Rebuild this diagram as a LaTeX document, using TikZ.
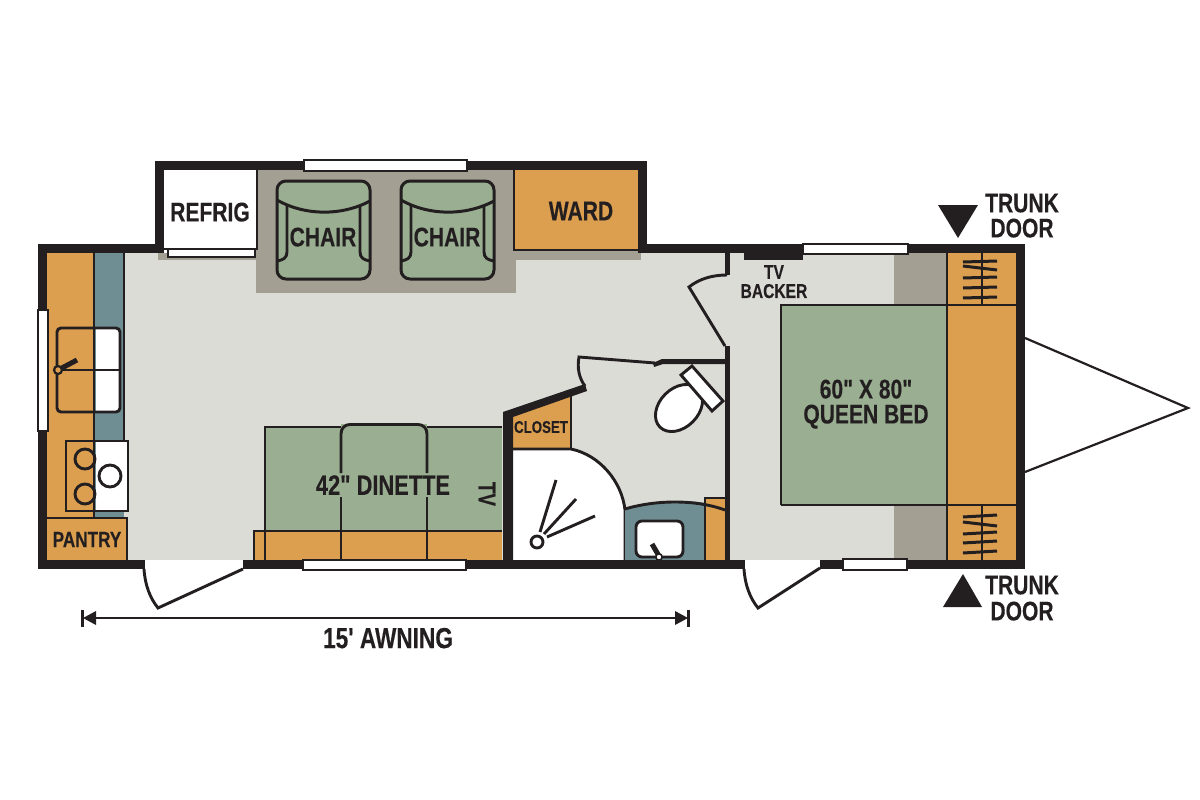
\documentclass[tikz,border=0pt]{standalone}
\usepackage{fontspec}
\newfontfamily\labfont[FakeStretch=0.78,BoldFeatures={FakeBold=0.25}]{Liberation Sans}
\definecolor{ink}{HTML}{231F20}
\definecolor{wood}{HTML}{DC9E4F}
\definecolor{teal}{HTML}{6F8E93}
\definecolor{sage}{HTML}{9AAF92}
\definecolor{floorl}{HTML}{DCDCD7}
\definecolor{floord}{HTML}{A39F93}
\tikzset{
  lab/.style={inner sep=0pt,text=ink,align=center,text depth=0pt,font=\labfont\bfseries\fontsize{#1}{#1}\selectfont},
  wall/.style={fill=ink,draw=none},
  ln/.style={draw=ink,line width=2.9pt,line join=miter},
  thin ln/.style={draw=ink,line width=2pt},
  win/.style={fill=white,draw=ink,line width=2.6pt},
  chairbox/.style={fill=sage,draw=ink,line width=3pt,rounded corners=9pt},
}
\begin{document}
\begin{tikzpicture}[x=1pt,y=-1pt]
\useasboundingbox (0,0) rectangle (1200,800);
% floors
\fill[floorl] (47,253) rectangle (1016,560);
\fill[floord] (256,170) rectangle (516,293);
\fill[floord] (158,253) rectangle (258,260);
\fill[floord] (513,250) rectangle (641,260);
\fill[floord] (894,253) rectangle (947,561);
% kitchen
\fill[wood] (47,253) rectangle (94,518);
\fill[teal] (94,253) rectangle (124,518);
\draw[thin ln] (94,253) -- (94,518);
\draw[ln] (124,253) -- (124,441);
\fill[wood] (46,518) rectangle (127,560);
\draw[thin ln] (46,518) -- (127,518) -- (127,560);
% sink
\fill[white] (96,328) -- (116,328) arc[start angle=90,end angle=0,radius=4pt] -- (120,408) arc[start angle=0,end angle=-90,radius=4pt] -- (96,412) -- cycle;
\draw[ln,rounded corners=4pt] (57,328) rectangle (120,412);
\draw[ln] (57,370) -- (120,370);
\draw[line width=5pt,draw=ink] (60,369) -- (77,360);
\draw[fill=wood,draw=ink,line width=2.2pt] (58,370) circle (4pt);
% stove
\fill[white] (96,441) rectangle (128,511);
\draw[ln] (66,441) rectangle (128,511);
\draw[ln] (85,459) circle (10pt);
\draw[ln] (85,494) circle (10pt);
\draw[ln,fill=white] (110,476) circle (11pt);
% dinette
\fill[wood] (254,531) rectangle (502,560);
\draw[thin ln] (254,560) -- (254,531) -- (265,531);
\fill[sage] (265,427) rectangle (502,531);
\fill[sage] (341,424) rectangle (427,430);
\draw[ln] (265,560) -- (265,427) -- (341,427);
\draw[ln] (427,427) -- (502,427);
\draw[ln] (341,473) -- (341,434) .. controls (341,428) and (345,424.5) .. (350,424.5) -- (418,424.5) .. controls (423,424.5) and (427,428) .. (427,434) -- (427,473);
\draw[ln] (341,497) -- (341,560);
\draw[ln] (427,497) -- (427,560);
\draw[thin ln] (254,531) -- (502,531);
% closet
\fill[wood] (513,449) -- (513,416) -- (571,395) -- (571,449) -- cycle;
\draw[thin ln] (571,395) -- (571,449);
% shower
\path[fill=white] (513,449) -- (571,449) .. controls (600,455) and (622,482) .. (625,510) -- (625,560) -- (513,560) -- cycle;
\draw[ln] (513,449) -- (571,449) .. controls (600,455) and (622,482) .. (625,510) -- (625,560);
\draw[ln] (537,542) circle (6pt);
\draw[ln] (540,532) -- (556,480);
\draw[ln] (544,534) -- (576,499);
\draw[ln] (547,537) -- (595,516);
% vanity
\path[fill=teal] (625,509) .. controls (650,501) and (685,499) .. (705,503) -- (705,560) -- (625,560) -- cycle;
\path[fill=wood] (705,498) -- (725,498) -- (725,560) -- (705,560) -- cycle;
\draw[thin ln] (705,560) -- (705,498) -- (725,498);
\draw[ln] (625,509) .. controls (655,500) and (695,499) .. (725,510);
\draw[ln,fill=white,rounded corners=6pt] (636,521) rectangle (683,557);
\draw[line width=5pt,draw=ink] (659,556) -- (652,544);
\draw[fill=white,draw=ink,line width=1.6pt] (659,557) circle (3.2pt);
% bedroom
\fill[sage] (781,305) rectangle (947,505);
\fill[wood] (947,253) rectangle (1016,561);
\draw[ln] (781,505) -- (781,305) -- (1016,305);
\draw[ln] (781,505) -- (1016,505);
\draw[ln] (947,253) -- (947,561);
\draw[ln] (982,253) -- (982,305);
\draw[ln] (982,505) -- (982,561);
\foreach \ya/\yb in {262/261,266/270,278/277,288/287,298/297}{
  \draw[line width=3pt,draw=ink] (963,\ya) -- (997,\yb);
}
\foreach \ya/\yb in {517/515,522/526,534/532,543/541,553/551}{
  \draw[line width=3pt,draw=ink] (963,\ya) -- (997,\yb);
}
% walls
\fill[wall] (155,161) rectangle (647,170);
\fill[wall] (155,161) rectangle (164,253);
\fill[wall] (638,161) rectangle (647,253);
\fill[wall] (38,244) rectangle (164,253);
\fill[wall] (638,244) rectangle (1025,253);
\fill[wall] (38,244) rectangle (47,569);
\fill[wall] (1016,244) rectangle (1025,569);
\fill[wall] (38,560) rectangle (145,569);
\fill[wall] (243,560) rectangle (745,569);
\fill[wall] (820,560) rectangle (1025,569);
\fill[wall] (503,412) -- (585,384) -- (587,391) -- (513,417) -- (513,560) -- (503,560) -- cycle;
\fill[wall] (725,253) rectangle (730,275);
\fill[wall] (725,346) rectangle (730,560);
\fill[wall] (653,363) -- (662,359) -- (725,359) -- (725,364) -- (663,364) -- (654,367) -- cycle;
\fill[wall] (744,253) rectangle (803,260);
% doors
\draw[ln] (727,275) .. controls (712,275) and (699,279) .. (689,287) -- (725,346);
\draw[ln] (655,363) -- (579,357) .. controls (577,368) and (579,378) .. (585,386);
\draw[ln] (144,569) .. controls (145,585) and (150,598) .. (158,608) -- (243,569);
\draw[ln] (744,569) .. controls (745,585) and (750,598) .. (758,608) -- (820,568);
% toilet
\draw[ln,fill=white] (679,408) ellipse [x radius=27pt,y radius=19.5pt,rotate=45];
\draw[ln,fill=white] (692,366) -- (723,401) -- (712,411) -- (681,375) -- cycle;
% refrigerator, ward
\fill[white] (164,170) rectangle (257,249);
\draw[ln] (257,170) -- (257,249) -- (164,249);
\fill[wood] (514,170) rectangle (638,250);
\draw[ln] (514,170) -- (514,250) -- (638,250);
% windows
\draw[win] (168,249) rectangle (255,257);
\draw[win] (304,160) rectangle (467,171);
\draw[win] (803,244) rectangle (908,254);
\draw[win] (38,310) rectangle (48,431);
\draw[win] (303,560) rectangle (466,570);
\draw[win] (843,559) rectangle (907,570);
% chairs
\foreach \dx in {0,124}{
  \begin{scope}[xshift=\dx pt]
  \draw[chairbox] (277,181) rectangle (370,279);
  \draw[draw=ink,line width=3pt] (277,200) .. controls (305,216) and (342,216) .. (370,201);
  \draw[ln] (287,206) -- (287,252) .. controls (287,258) and (283,260) .. (277,261);
  \draw[ln] (360,206) -- (360,252) .. controls (360,258) and (364,260) .. (370,261);
  \end{scope}
}
% hitch
\draw[draw=ink,line width=2.2pt] (1025,338) -- (1188,408) -- (1025,472);
% trunk door markers
\fill[ink] (938,205) -- (978,205) -- (958,238) -- cycle;
\fill[ink] (943,607) -- (982,607) -- (963,574) -- cycle;
% dimension
\draw[draw=ink,line width=2.2pt] (90,618) -- (680,618);
\fill[ink] (83,618) -- (96,611) -- (96,625) -- cycle;
\fill[ink] (688,618) -- (675,611) -- (675,625) -- cycle;
\fill[ink] (81,610) rectangle (84,627);
\fill[ink] (687,610) rectangle (690,627);
% labels
\node[lab=27] (refrig) at (210,212) {REFRIG};
\node[lab=27] (ward) at (581,211) {WARD};
\node[lab=27] (chaira) at (323,237) {CHAIR};
\node[lab=27] (chairb) at (447,237) {CHAIR};
\node[lab=22] (pantry) at (87,539.5) {PANTRY};
\node[lab=17] (closet) at (541,427) {CLOSET};
\node[lab=28] (dinette) at (383,485) {42" DINETTE};
\node[lab=24,rotate=-90] (tv) at (487,494) {TV};
\node[lab=20] (tvb) at (774,272) {TV};
\node[lab=20] (backer) at (774,291) {BACKER};
\node[lab=27] (size) at (866,389) {60" X 80"};
\node[lab=27] (queen) at (866,414) {QUEEN BED};
\node[lab=27] (trunka) at (1022,203) {TRUNK};
\node[lab=27] (doora) at (1022,228) {DOOR};
\node[lab=27] (trunkb) at (1022,585) {TRUNK};
\node[lab=27] (doorb) at (1022,611) {DOOR};
\node[lab=29] (awning) at (388,638) {15' AWNING};
\end{tikzpicture}
\end{document}
